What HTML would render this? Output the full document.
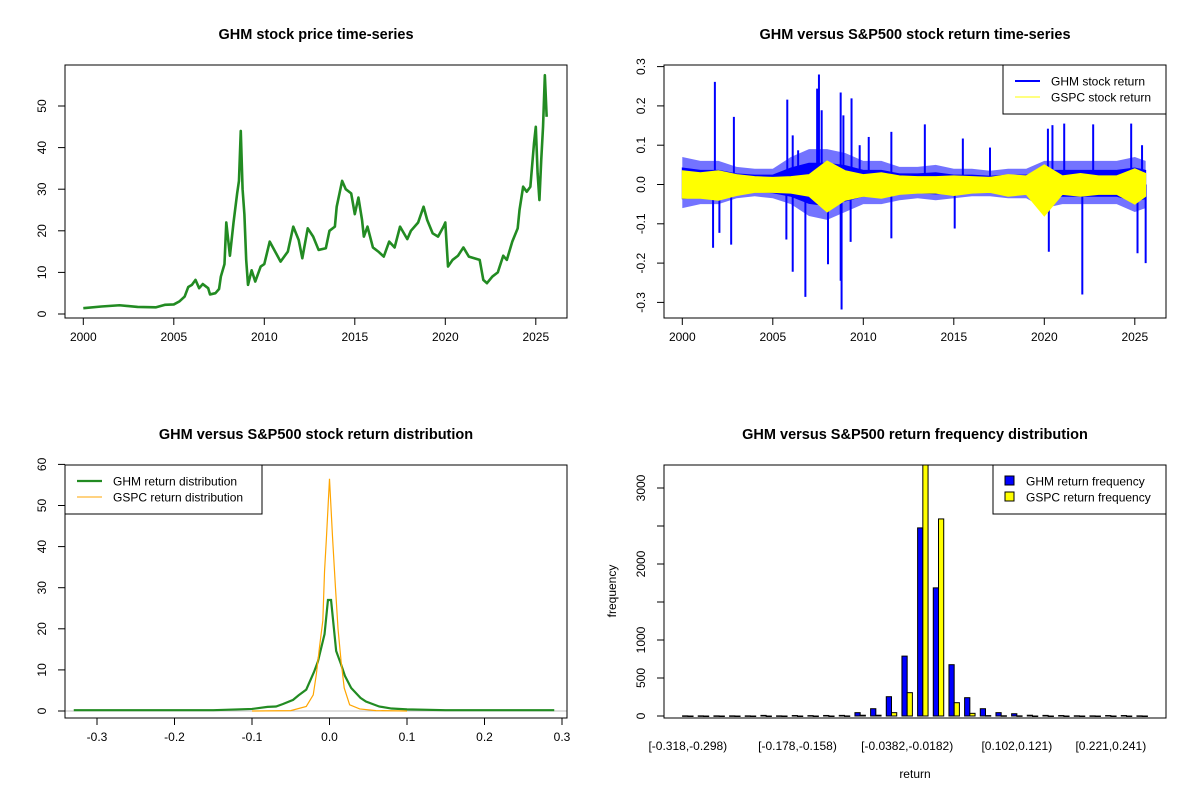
<!DOCTYPE html>
<html><head><meta charset="utf-8">
<style>
html,body{margin:0;padding:0;background:#fff;}
svg{display:block;font-family:"Liberation Sans",Arial,sans-serif;}
.t{font-size:14.5px;font-weight:bold;text-anchor:middle;}
.k{font-size:12px;}
</style></head>
<body>
<svg id="c" width="1200" height="800" viewBox="0 0 1200 800" xmlns="http://www.w3.org/2000/svg">
<defs>
<clipPath id="clipTL"><rect x="65" y="65" width="502" height="253"/></clipPath>
<clipPath id="clipTR"><rect x="664" y="65" width="502" height="253"/></clipPath>
<clipPath id="clipBL"><rect x="65" y="465" width="502" height="253"/></clipPath>
<clipPath id="clipBR"><rect x="664" y="465" width="502" height="253"/></clipPath>
</defs>
<g id="tl"></g>
<g id="tr"></g>
<g id="bl"></g>
<g id="br"></g>
</svg>
<script>
// ---------- data ----------
const priceYears = [2000,2001,2002,2003,2004,2004.5,2005,2005.3,2005.6,2005.8,2006,2006.2,2006.4,2006.6,2006.9,2007,2007.3,2007.5,2007.6,2007.8,2007.9,2008,2008.1,2008.3,2008.5,2008.6,2008.7,2008.8,2008.9,2009,2009.1,2009.3,2009.5,2009.8,2010,2010.3,2010.6,2010.9,2011.3,2011.6,2011.9,2012.1,2012.4,2012.7,2013,2013.4,2013.6,2013.9,2014,2014.3,2014.5,2014.8,2015,2015.2,2015.4,2015.5,2015.7,2016,2016.3,2016.6,2016.9,2017.2,2017.5,2017.9,2018.1,2018.5,2018.8,2019,2019.3,2019.6,2019.9,2020,2020.15,2020.4,2020.7,2021,2021.3,2021.6,2021.9,2022.1,2022.3,2022.6,2022.9,2023.2,2023.4,2023.7,2024,2024.1,2024.3,2024.5,2024.7,2024.9,2025,2025.1,2025.2,2025.3,2025.4,2025.5,2025.6];
const priceValues = [1.4,1.8,2.1,1.7,1.6,2.2,2.3,3,4.2,6.5,7,8.2,6.2,7.2,6.2,4.7,5,6,9,12,22,18,14,22,29,32,44,30,24,13,7,10.5,7.8,11.4,12,17.4,15,12.6,15,21,17.8,13.4,20.6,18.6,15.4,15.8,20,21,25.8,32,30,29,24,28,22.6,18.6,21,16,15,13.8,17.4,16,21,18,20,22,25.8,22.6,19.4,18.6,21,22,11.4,13,14,16,13.8,13.4,13,8.2,7.4,9,10,14,13,17.4,20.6,25,30.6,29.4,30.6,41,45,33.8,27.4,37,45,57.4,47.4];

const bandYears = [2000,2001,2002,2003,2004,2005,2006,2007,2008,2009,2010,2011,2012,2013,2014,2015,2016,2017,2018,2019,2020,2021,2022,2023,2024,2025,2025.6];
const ghmHigh = [0.07,0.06,0.06,0.045,0.04,0.04,0.07,0.09,0.09,0.08,0.06,0.06,0.045,0.045,0.05,0.04,0.04,0.035,0.04,0.04,0.06,0.06,0.06,0.06,0.06,0.07,0.06];
const ghmLow = [-0.06,-0.05,-0.05,-0.035,-0.03,-0.035,-0.05,-0.08,-0.09,-0.07,-0.05,-0.05,-0.04,-0.035,-0.04,-0.035,-0.03,-0.03,-0.035,-0.035,-0.06,-0.05,-0.05,-0.05,-0.05,-0.07,-0.06];
const gspcHigh = [0.035,0.03,0.035,0.025,0.02,0.018,0.02,0.025,0.06,0.035,0.025,0.03,0.022,0.02,0.02,0.022,0.02,0.018,0.025,0.022,0.05,0.022,0.028,0.022,0.022,0.04,0.028];
const gspcLow = [-0.035,-0.035,-0.04,-0.028,-0.02,-0.02,-0.022,-0.03,-0.07,-0.04,-0.03,-0.035,-0.025,-0.022,-0.022,-0.028,-0.022,-0.02,-0.03,-0.025,-0.08,-0.025,-0.03,-0.025,-0.025,-0.05,-0.03];
const spikeYears = [2001.8,2002.85,2005.8,2006.1,2006.4,2007.45,2007.55,2007.7,2008.75,2008.9,2009.35,2009.8,2010.3,2011.55,2013.4,2015.5,2017.0,2020.2,2020.45,2021.1,2022.7,2024.8,2025.4,2001.7,2002.05,2002.7,2005.75,2006.1,2006.8,2008.05,2008.75,2008.8,2009.3,2011.55,2015.05,2020.25,2022.1,2025.15,2025.6];
const spikeValues = [0.261,0.172,0.216,0.125,0.087,0.244,0.28,0.189,0.234,0.176,0.219,0.1,0.121,0.134,0.153,0.117,0.094,0.142,0.151,0.155,0.153,0.155,0.1,-0.161,-0.123,-0.153,-0.14,-0.222,-0.286,-0.203,-0.245,-0.318,-0.146,-0.137,-0.112,-0.171,-0.28,-0.175,-0.2];

const ghmDensX = [-0.33,-0.15,-0.1,-0.08,-0.069,-0.06,-0.047,-0.04,-0.03,-0.02,-0.015,-0.0064,-0.002,0.002,0.0086,0.015,0.02,0.028,0.04,0.047,0.064,0.08,0.1,0.15,0.29];
const ghmDensY = [0.2,0.2,0.5,1,1.1,1.7,2.7,3.8,5.2,9.5,12,18.7,27,27,14.6,11.3,8.5,5.6,3.2,2.3,1.1,0.6,0.4,0.2,0.2];
const gspcDensX = [-0.1,-0.05,-0.03,-0.021,-0.017,-0.013,-0.0086,-0.0064,-0.004,0,0.004,0.0077,0.011,0.015,0.019,0.026,0.039,0.06,0.1];
const gspcDensY = [0,0.1,1.1,3.9,8.9,15.4,22,34,42,56.5,42,30,20,12,5.6,1.5,0.5,0.1,0];

const histBlue = [2,2,2,2,2,8,2,6,5,7,8,44,96,254,788,2475,1686,675,241,96,44,30,10,8,6,3,2,6,6,2];
const histYellow = [0,0,0,0,0,0,0,0,0,0,1,10,10,44,307,3450,2593,175,35,5,3,2,0,0,0,0,0,0,0,0];
const histLabelIdx = [0,7,14,21,27];
const histLabels = ["[-0.318,-0.298)","[-0.178,-0.158)","[-0.0382,-0.0182)","[0.102,0.121)","[0.221,0.241)"];

const yearTicks = [2000,2005,2010,2015,2020,2025];
const priceTicks = [0,10,20,30,40,50];
const retTicks = [-0.3,-0.2,-0.1,0,0.1,0.2,0.3];
const densXTicks = [-0.3,-0.2,-0.1,0,0.1,0.2,0.3];
const densYTicks = [0,10,20,30,40,50,60];
const freqTicks = [0,500,1000,1500,2000,2500,3000];
const freqLabels = ["0","500","1000","","2000","","3000"];

// ---------- helpers ----------
const NS="http://www.w3.org/2000/svg";
function mk(parent,tag,attrs,text){const e=document.createElementNS(NS,tag);for(const k in attrs)e.setAttribute(k,attrs[k]);if(text!==undefined)e.textContent=text;parent.appendChild(e);return e;}
function fmt(v){return (Math.round(v*10)/10).toFixed(1);}

const xTL=y=>83.3+(y-2000)*18.1;
const yTL=v=>314-v*4.16;
const xTR=y=>682.3+(y-2000)*18.1;
const yTR=v=>184.5-v*393;
const xBL=v=>329.5+v*775;
const yBL=v=>711-v*4.11;
const U=502/96.12;
const uBR=n=>664+(n+2.56)*U;
const yBR=v=>716-v*0.076;

function frame(g,x,y,w,h){const r=mk(g,'rect',{x:x,y:y,width:w,height:h,fill:'none',stroke:'#000','stroke-width':1});}
function title(g,x,y,txt){const t=mk(g,'text',{x:x,y:y,class:'t'},txt);}
function xAxis(g,ticks,sx,y0,labels){
  const a=mk(g,'g',{});
  mk(a,'line',{x1:sx(ticks[0]),x2:sx(ticks[ticks.length-1]),y1:y0,y2:y0,stroke:'#000'});
  ticks.forEach((t,i)=>{mk(a,'line',{x1:sx(t),x2:sx(t),y1:y0,y2:y0+7,stroke:'#000'});
    const tx=mk(a,'text',{x:sx(t),y:y0+23,class:'k','text-anchor':'middle'},labels[i]);
    });
}
function yAxis(g,ticks,sy,x0,labels){
  const a=mk(g,'g',{});
  mk(a,'line',{x1:x0,x2:x0,y1:sy(ticks[0]),y2:sy(ticks[ticks.length-1]),stroke:'#000'});
  ticks.forEach((t,i)=>{mk(a,'line',{x1:x0-7,x2:x0,y1:sy(t),y2:sy(t),stroke:'#000'});
    if(labels[i]!==''){const tx=mk(a,'text',{x:x0-19,y:sy(t),class:'k','text-anchor':'middle',transform:`rotate(-90 ${x0-19} ${sy(t)})`},labels[i]);
    }});
}
function legend(g,x,y,w,entries){
  const L=mk(g,'g',{});
  mk(L,'rect',{x:x,y:y,width:w,height:49,fill:'#fff',stroke:'#000'});
  entries.forEach((e,i)=>{const cy=y+16+i*16;
    const en=mk(L,'g',{});
    if(e.box){mk(en,'rect',{x:x+12,y:cy-5,width:9,height:9,fill:e.color,stroke:'#000'});}
    else{mk(en,'line',{x1:x+12,x2:x+37,y1:cy,y2:cy,stroke:e.color,'stroke-width':e.w});}
    mk(en,'text',{x:x+(e.box?33:48),y:cy+4.5,class:'k'},e.label);});
}

// ---------- top-left ----------
const TL=document.getElementById('tl');
title(TL,316,39,'GHM stock price time-series');
const pl=mk(TL,'polyline',{points:priceYears.map((y,i)=>xTL(y)+','+yTL(priceValues[i])).join(' '),fill:'none',stroke:'#228B22','stroke-width':2.6,'stroke-linejoin':'round','clip-path':'url(#clipTL)'});


frame(TL,65,65,502,253);
xAxis(TL,yearTicks,xTL,318,yearTicks.map(String));
yAxis(TL,priceTicks,yTL,65,priceTicks.map(String));

// ---------- top-right ----------
const TR=document.getElementById('tr');
title(TR,915,39,'GHM versus S&P500 stock return time-series');
const gR=mk(TR,'g',{'clip-path':'url(#clipTR)'});
spikeYears.forEach((y,i)=>{const s=mk(gR,'line',{x1:xTR(y),x2:xTR(y),y1:yTR(0),y2:yTR(spikeValues[i]),stroke:'#0000FF','stroke-width':2});
  
  });
const bandPts=(hi,lo,k)=>bandYears.map((y,i)=>xTR(y)+','+yTR(hi[i]*k)).concat(bandYears.slice().reverse().map((y,j)=>{const i=bandYears.length-1-j;return xTR(y)+','+yTR(lo[i]*k);})).join(' ');
const gbo=mk(gR,'polygon',{points:bandPts(ghmHigh,ghmLow,1),fill:'#0000FF','fill-opacity':0.55,stroke:'none'});


const gb=mk(gR,'polygon',{points:bandPts(ghmHigh,ghmLow,0.6),fill:'#0000FF',stroke:'#0000FF','stroke-width':1});


const yb=mk(gR,'polygon',{points:bandPts(gspcHigh,gspcLow,1),fill:'#FFFF00',stroke:'#FFFF00','stroke-width':1});


frame(TR,664,65,502,253);
xAxis(TR,yearTicks,xTR,318,yearTicks.map(String));
yAxis(TR,retTicks,yTR,664,retTicks.map(fmt));
legend(TR,1003,65,163,[{color:'#0000FF',w:2,label:'GHM stock return'},{color:'#FFFF00',w:1,label:'GSPC stock return'}]);

// ---------- bottom-left ----------
const BL=document.getElementById('bl');
title(BL,316,439,'GHM versus S&P500 stock return distribution');
const gD=mk(BL,'g',{'clip-path':'url(#clipBL)'});
mk(gD,'line',{x1:65,x2:567,y1:yBL(0),y2:yBL(0),stroke:'#bebebe'});
const dg=mk(gD,'polyline',{points:ghmDensX.map((x,i)=>xBL(x)+','+yBL(ghmDensY[i])).join(' '),fill:'none',stroke:'#228B22','stroke-width':2.2});


const dy=mk(gD,'polyline',{points:gspcDensX.map((x,i)=>xBL(x)+','+yBL(gspcDensY[i])).join(' '),fill:'none',stroke:'#FFA500','stroke-width':1.2});


frame(BL,65,465,502,253);
xAxis(BL,densXTicks,xBL,718,densXTicks.map(fmt));
yAxis(BL,densYTicks,yBL,65,densYTicks.map(String));
legend(BL,65,465,197,[{color:'#228B22',w:2.2,label:'GHM return distribution'},{color:'#FFA500',w:1,label:'GSPC return distribution'}]);

// ---------- bottom-right ----------
const BR=document.getElementById('br');
title(BR,915,439,'GHM versus S&P500 return frequency distribution');
const gH=mk(BR,'g',{'clip-path':'url(#clipBR)'});
histBlue.forEach((v,k)=>{const x=uBR(3*k+1);
  const b=mk(gH,'rect',{x:x,y:yBR(v),width:U,height:Math.max(yBR(0)-yBR(v),0.5),fill:'#0000FF',stroke:'#000','stroke-width':1});
  
  });
histYellow.forEach((v,k)=>{const x=uBR(3*k+2);
  const b=mk(gH,'rect',{x:x,y:yBR(v),width:U,height:Math.max(yBR(0)-yBR(v),0.5),fill:'#FFFF00',stroke:'#000','stroke-width':1});
  
  });
frame(BR,664,465,502,253);
yAxis(BR,freqTicks,yBR,664,freqLabels);
histLabelIdx.forEach((k,i)=>{const t=mk(BR,'text',{x:uBR(3*k+2),y:750,class:'k','text-anchor':'middle'},histLabels[i]);
  
  });
const xl=mk(BR,'text',{x:915,y:778,class:'k','text-anchor':'middle','font-size':'11px'},'return');


const yl=mk(BR,'text',{x:616,y:591,class:'k','text-anchor':'middle',transform:'rotate(-90 616 591)','font-size':'11px'},'frequency');


legend(BR,993,465,173,[{color:'#0000FF',box:true,label:'GHM return frequency'},{color:'#FFFF00',box:true,label:'GSPC return frequency'}]);
</script>
</body></html>
